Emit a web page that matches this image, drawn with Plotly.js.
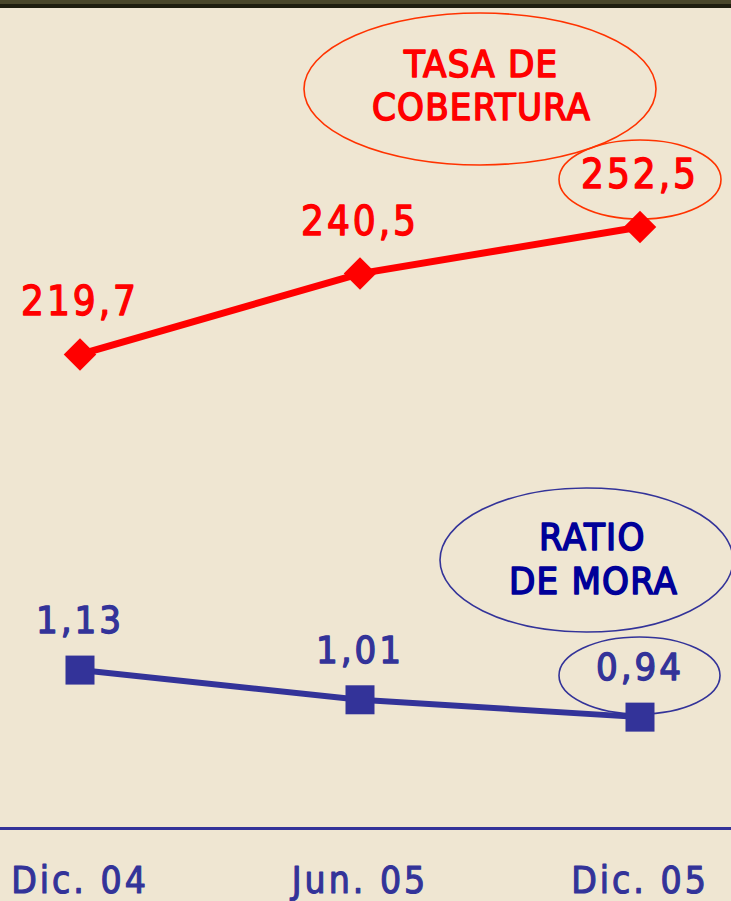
<!DOCTYPE html>
<html>
<head>
<meta charset="utf-8">
<script src="https://cdn.plot.ly/plotly-3.0.1.min.js"></script>
<style>
  html, body { margin: 0; padding: 0; background: #EFE6D2; }
  #chart { width: 731px; height: 901px; }
</style>
</head>
<body>
<div id="chart"></div>
<script>
// ---- data ----
const categories = ['Dic. 04', 'Jun. 05', 'Dic. 05'];
const tasaCobertura = [219.7, 240.5, 252.5];
const ratioMora = [1.13, 1.01, 0.94];
const tasaTitle = ['TASA DE', 'COBERTURA'];
const moraTitle = ['RATIO', 'DE MORA'];

// ---- style ----
const W = 731, H = 901, PLOT_BOTTOM = 827;
const BG = '#EFE6D2';
const RED = '#FF0000', RED_EDGE = '#FF3300';
const BLUE = '#333399', BLUE_TITLE = '#000099';
const FONT = '"DejaVu Sans Condensed", "DejaVu Sans", sans-serif';

const X = px => px / W;
const Y = py => (PLOT_BOTTOM - py) / PLOT_BOTTOM;
const fmt = (v, d) => v.toFixed(d).replace('.', ',');
const styled = (t, spacing, color, sw) =>
  '<span style="letter-spacing:' + spacing + 'px;stroke:' + color +
  ';stroke-width:' + sw + 'px;stroke-linejoin:round">' + t + '</span>';

const traces = [
  {
    x: categories, y: tasaCobertura, type: 'scatter', mode: 'lines+markers',
    line: { color: RED, width: 7 },
    marker: { symbol: 'diamond', size: 25, color: RED },
    yaxis: 'y', hoverinfo: 'skip'
  },
  {
    x: categories, y: ratioMora, type: 'scatter', mode: 'lines+markers',
    line: { color: BLUE, width: 6 },
    marker: { symbol: 'square', size: 29, color: BLUE },
    yaxis: 'y2', hoverinfo: 'skip'
  }
];

const annotations = [];
categories.forEach((c, i) => {
  annotations.push({
    x: c, y: tasaCobertura[i], xref: 'x', yref: 'y', yshift: 53,
    text: styled(fmt(tasaCobertura[i], 1), 3, RED, 1.3), showarrow: false,
    font: { family: FONT, size: 40, color: RED }
  });
  annotations.push({
    x: c, y: ratioMora[i], xref: 'x', yref: 'y2', yshift: 50,
    text: styled(fmt(ratioMora[i], 2), 3, BLUE, 1.3), showarrow: false,
    font: { family: FONT, size: 38, color: BLUE }
  });
});
const titleLines = [
  { t: tasaTitle[0], x: 480, y: 64, c: RED },
  { t: tasaTitle[1], x: 481, y: 107, c: RED },
  { t: moraTitle[0], x: 592, y: 537, c: BLUE_TITLE },
  { t: moraTitle[1], x: 593, y: 581, c: BLUE_TITLE }
];
titleLines.forEach(l => annotations.push({
  x: X(l.x), y: Y(l.y), xref: 'paper', yref: 'paper',
  text: styled(l.t, 1.2, l.c, 1.6), showarrow: false,
  xanchor: 'center', yanchor: 'middle',
  font: { family: FONT, size: 38, color: l.c }
}));

const ellipse = (x0, x1, y0, y1, color) => ({
  type: 'circle', xref: 'paper', yref: 'paper',
  x0: X(x0), x1: X(x1), y0: Y(y1), y1: Y(y0),
  line: { color: color, width: 1.6 }, fillcolor: 'rgba(0,0,0,0)', layer: 'below'
});

const shapes = [
  { type: 'rect', xref: 'paper', yref: 'paper', x0: 0, x1: 1, y0: Y(4), y1: Y(0),
    fillcolor: '#49462A', line: { width: 0 } },
  { type: 'rect', xref: 'paper', yref: 'paper', x0: 0, x1: 1, y0: Y(8), y1: Y(4),
    fillcolor: '#1E1D0E', line: { width: 0 } },
  ellipse(304, 656, 13, 165, RED_EDGE),
  ellipse(559, 721, 140, 219, RED_EDGE),
  ellipse(440, 733, 488, 632, BLUE),
  ellipse(559, 720, 637, 714, BLUE)
];

const layout = {
  width: W, height: H,
  margin: { l: 0, r: 0, t: 0, b: H - PLOT_BOTTOM, pad: 0 },
  paper_bgcolor: BG, plot_bgcolor: BG,
  showlegend: false,
  xaxis: {
    type: 'category', range: [-0.2857, 2.325],
    tickvals: categories, ticktext: categories.map(c => styled(c, 3, BLUE, 1.1)),
    showgrid: false, zeroline: false, showline: true, linecolor: BLUE, linewidth: 2.5,
    ticks: '', ticklabelstandoff: 19, automargin: false,
    tickfont: { family: FONT, size: 37, color: BLUE }, fixedrange: true
  },
  yaxis: { range: [98.05, 310.93], visible: false, fixedrange: true },
  yaxis2: { range: [0.4963, 3.836], overlaying: 'y', visible: false, fixedrange: true },
  shapes: shapes,
  annotations: annotations
};

Plotly.newPlot('chart', traces, layout, { staticPlot: true, displayModeBar: false });
</script>
</body>
</html>
